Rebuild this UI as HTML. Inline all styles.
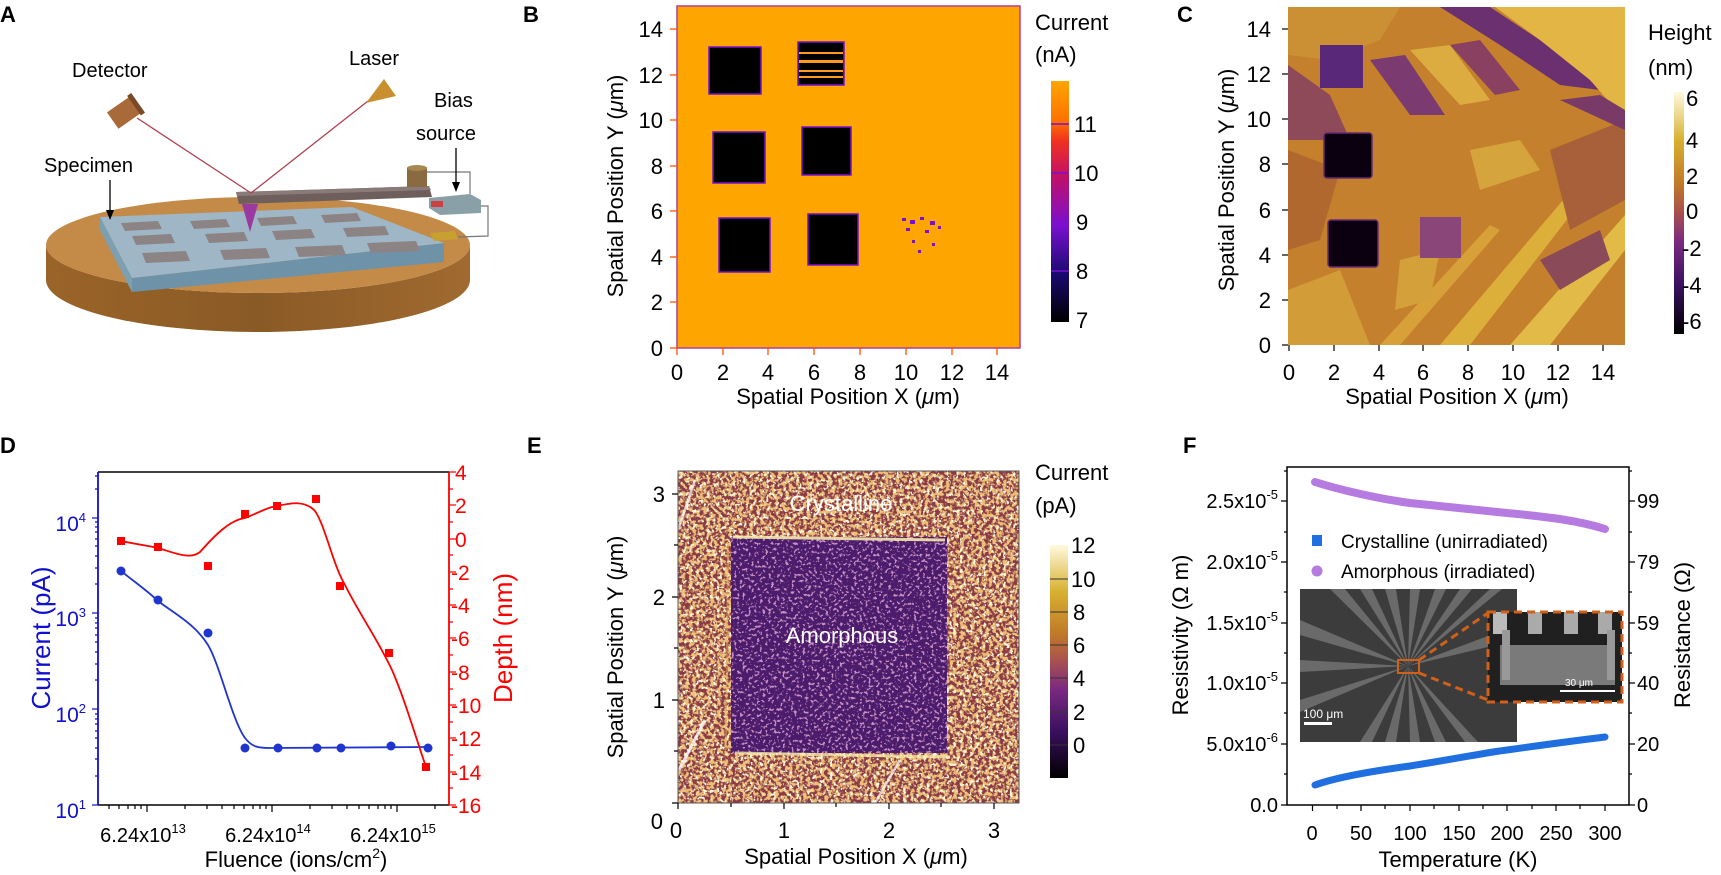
<!DOCTYPE html>
<html><head><meta charset="utf-8"><style>
html,body{margin:0;padding:0;background:#fff;}
svg{display:block;font-family:"Liberation Sans",sans-serif;}
</style></head><body>
<svg width="1721" height="875" viewBox="0 0 1721 875" xmlns="http://www.w3.org/2000/svg">
<defs>
<linearGradient id="cbB" x1="0" y1="1" x2="0" y2="0">
<stop offset="0" stop-color="#000"/><stop offset="0.2" stop-color="#1a0a70"/><stop offset="0.4" stop-color="#7a10d0"/><stop offset="0.6" stop-color="#c0106a"/><stop offset="0.75" stop-color="#f03020"/><stop offset="0.83" stop-color="#ff7000"/><stop offset="1" stop-color="#ffa500"/></linearGradient>
<linearGradient id="cbC" x1="0" y1="1" x2="0" y2="0">
<stop offset="0" stop-color="#000"/><stop offset="0.2" stop-color="#3a1060"/><stop offset="0.38" stop-color="#7a2a80"/><stop offset="0.5" stop-color="#a85050"/><stop offset="0.62" stop-color="#c07a28"/><stop offset="0.8" stop-color="#d8b030"/><stop offset="1" stop-color="#fffae0"/></linearGradient>
<linearGradient id="disk" x1="0" y1="0" x2="1" y2="0"><stop offset="0" stop-color="#9a6428"/><stop offset="0.5" stop-color="#8a5a26"/><stop offset="1" stop-color="#a06a30"/></linearGradient>
<filter id="spO" x="0" y="0" width="100%" height="100%"><feTurbulence type="fractalNoise" baseFrequency="0.28" numOctaves="2" seed="3"/><feColorMatrix type="matrix" values="0 0 0 0 0.85  0 0 0 0 0.52  0 0 0 0 0.18  7 0 0 0 -3.1"/></filter>
<filter id="spY" x="0" y="0" width="100%" height="100%"><feTurbulence type="fractalNoise" baseFrequency="0.3" numOctaves="2" seed="8"/><feColorMatrix type="matrix" values="0 0 0 0 1  0 0 0 0 0.95  0 0 0 0 0.7  0 9 0 0 -5.1"/></filter>
<filter id="spI" x="0" y="0" width="100%" height="100%"><feTurbulence type="fractalNoise" baseFrequency="0.35" numOctaves="2" seed="5"/><feColorMatrix type="matrix" values="0 0 0 0 0.6  0 0 0 0 0.28  0 0 0 0 0.55  8 0 0 0 -4.5"/></filter>
<clipPath id="clipC"><rect x="1288" y="7" width="337" height="338"/></clipPath>
<clipPath id="clipI1"><rect x="1300" y="589" width="217" height="153"/></clipPath>
<clipPath id="clipI2"><rect x="1488" y="612" width="134" height="90"/></clipPath>
</defs>

<!-- ============ A ============ -->
<text x="0" y="22" font-size="22" font-weight="bold">A</text>
<path d="M46,245 A212,48 0 0 0 470,245 L470,280 A212,52 0 0 1 46,280 Z" fill="url(#disk)"/>
<ellipse cx="258" cy="245" rx="212" ry="48" fill="#c48a48"/>
<polygon points="132,278 444,243 444,262 132,292" fill="#6e92a8"/>
<polygon points="100,217 352,207 444,243 132,278" fill="#9fb6c6"/>
<polygon points="100,217 132,278 132,292 100,230" fill="#7d9fb2"/>
<g fill="#8c8484">
<polygon points="121,223 158,221 162,229 125,231"/><polygon points="190,221 226,219 230,227 194,229"/><polygon points="257,218 293,216 297,224 261,226"/><polygon points="321,215 357,213 361,221 325,223"/>
<polygon points="132,236 171,234 175,243 136,245"/><polygon points="205,234 244,232 248,241 209,243"/><polygon points="272,231 311,229 315,238 276,240"/><polygon points="343,228 385,226 389,235 347,237"/>
<polygon points="142,253 186,251 190,261 146,263"/><polygon points="220,250 266,248 270,258 224,260"/><polygon points="295,247 342,245 346,255 299,257"/><polygon points="367,243 416,241 420,251 371,253"/>
</g>
<polygon points="236,192 429,186 432,197 239,204" fill="#6e5e5c"/>
<polygon points="236,192 429,186 431,190 237,196" fill="#8a7a78"/>
<rect x="407" y="168" width="20" height="19" fill="#8a6a40"/><ellipse cx="417" cy="168" rx="10" ry="3" fill="#a8884e"/>
<polygon points="242,204 258,204 250,232" fill="#9a3aa0"/>
<polyline points="137,118 251,193 368,101" fill="none" stroke="#b04050" stroke-width="1.3"/>
<polygon points="366,103 384,79 396,96" fill="#c8902e"/>
<g transform="rotate(-35 125 112)"><rect x="110" y="102" width="28" height="20" fill="#a86a38"/><rect x="136" y="100" width="5" height="24" fill="#7a4a28"/></g>
<polygon points="429,198 470,194 481,200 481,213 440,215 429,208" fill="#8aa0a8"/>
<rect x="431" y="201" width="12" height="6" fill="#d04040"/>
<polyline points="427,172 470,172 470,194" fill="none" stroke="#777" stroke-width="1.2"/>
<polyline points="481,206 488,206 488,236 458,237" fill="none" stroke="#777" stroke-width="1.2"/>
<polygon points="430,233 455,231 458,239 434,241" fill="#c8a030"/>
<text x="72" y="77" font-size="20">Detector</text>
<text x="349" y="65" font-size="20">Laser</text>
<text x="434" y="107" font-size="20">Bias</text>
<text x="416" y="140" font-size="20">source</text>
<text x="44" y="172" font-size="20">Specimen</text>
<line x1="110" y1="180" x2="110" y2="212" stroke="#000" stroke-width="1.3"/><polygon points="106,210 114,210 110,220" fill="#000"/>
<line x1="456" y1="148" x2="456" y2="184" stroke="#000" stroke-width="1.3"/><polygon points="452,182 460,182 456,192" fill="#000"/>

<!-- ============ B ============ -->
<text x="523" y="22" font-size="22" font-weight="bold">B</text>
<rect x="677" y="6" width="343" height="342" fill="#ffa500" stroke="#b040a0" stroke-width="1.5"/>
<g fill="#000" stroke="#7a10d0" stroke-width="1.5">
<rect x="709" y="47" width="52" height="47"/>
<rect x="713" y="132" width="52" height="51"/>
<rect x="802" y="127" width="49" height="48"/>
<rect x="719" y="218" width="51" height="54"/>
<rect x="808" y="214" width="50" height="51"/>
<rect x="798" y="42" width="46" height="43"/>
</g>
<g fill="#ff9a20"><rect x="799" y="52" width="44" height="2"/><rect x="799" y="60" width="44" height="3"/><rect x="799" y="70" width="44" height="2"/><rect x="799" y="76" width="44" height="2"/></g>
<g fill="#7a10d0"><rect x="902" y="218" width="4" height="3"/><rect x="910" y="220" width="5" height="4"/><rect x="920" y="217" width="4" height="3"/><rect x="930" y="221" width="5" height="4"/><rect x="906" y="228" width="4" height="3"/><rect x="925" y="230" width="4" height="3"/><rect x="912" y="240" width="3" height="3"/><rect x="932" y="243" width="3" height="3"/><rect x="918" y="250" width="3" height="3"/><rect x="938" y="226" width="3" height="3"/></g>
<g stroke="#ff5000" stroke-width="1.3">
<line x1="677" y1="348" x2="677" y2="355"/><line x1="723" y1="348" x2="723" y2="355"/><line x1="768" y1="348" x2="768" y2="355"/><line x1="814" y1="348" x2="814" y2="355"/><line x1="860" y1="348" x2="860" y2="355"/><line x1="906" y1="348" x2="906" y2="355"/><line x1="952" y1="348" x2="952" y2="355"/><line x1="997" y1="348" x2="997" y2="355"/>
<line x1="670" y1="348" x2="677" y2="348"/><line x1="670" y1="302" x2="677" y2="302"/><line x1="670" y1="257" x2="677" y2="257"/><line x1="670" y1="211" x2="677" y2="211"/><line x1="670" y1="166" x2="677" y2="166"/><line x1="670" y1="120" x2="677" y2="120"/><line x1="670" y1="75" x2="677" y2="75"/><line x1="670" y1="29" x2="677" y2="29"/>
</g>
<g font-size="22" text-anchor="end">
<text x="663" y="356">0</text><text x="663" y="310">2</text><text x="663" y="265">4</text><text x="663" y="219">6</text><text x="663" y="174">8</text><text x="663" y="128">10</text><text x="663" y="83">12</text><text x="663" y="37">14</text>
</g>
<g font-size="22" text-anchor="middle">
<text x="677" y="380">0</text><text x="723" y="380">2</text><text x="768" y="380">4</text><text x="814" y="380">6</text><text x="860" y="380">8</text><text x="906" y="380">10</text><text x="952" y="380">12</text><text x="997" y="380">14</text>
<text x="848" y="404">Spatial Position X (<tspan font-style="italic">μ</tspan>m)</text>
</g>
<text transform="translate(623,186) rotate(-90)" font-size="22" text-anchor="middle">Spatial Position Y (<tspan font-style="italic">μ</tspan>m)</text>
<text x="1035" y="30" font-size="22">Current</text><text x="1035" y="62" font-size="22">(nA)</text>
<rect x="1051" y="81" width="18" height="241" fill="url(#cbB)"/>
<g stroke="#7a10d0" stroke-width="1.5"><line x1="1051" y1="124" x2="1069" y2="124"/><line x1="1051" y1="173" x2="1069" y2="173"/><line x1="1051" y1="222" x2="1069" y2="222"/><line x1="1051" y1="271" x2="1069" y2="271"/></g>
<g font-size="22"><text x="1074" y="132">11</text><text x="1074" y="181">10</text><text x="1076" y="230">9</text><text x="1076" y="279">8</text><text x="1076" y="328">7</text></g>

<!-- ============ C ============ -->
<text x="1177" y="22" font-size="22" font-weight="bold">C</text>
<g clip-path="url(#clipC)">
<rect x="1288" y="7" width="337" height="338" fill="#c4802c"/>
<polygon points="1288,7 1400,7 1380,40 1330,60 1288,55" fill="#cc9034"/>
<polygon points="1440,7 1490,7 1570,60 1600,90 1560,85 1500,45" fill="#6a3070"/>
<polygon points="1495,7 1625,7 1625,120 1590,80 1540,40" fill="#e3b545"/>
<polygon points="1370,60 1405,55 1445,115 1410,115" fill="#7b3a70"/>
<polygon points="1410,50 1450,45 1490,100 1460,105" fill="#dcac40"/>
<polygon points="1450,45 1480,40 1520,90 1495,95" fill="#8a4060"/>
<polygon points="1288,65 1330,95 1350,140 1288,140" fill="#8e4a58"/>
<polygon points="1288,150 1340,170 1320,240 1288,250" fill="#b0682e"/>
<polygon points="1440,345 1470,345 1590,190 1580,180" fill="#dcae3a"/>
<polygon points="1510,345 1550,345 1625,250 1625,215" fill="#e2ba48"/>
<polygon points="1380,345 1400,345 1500,230 1490,225" fill="#d8a038"/>
<polygon points="1288,290 1340,270 1370,345 1288,345" fill="#d29c38"/>
<polygon points="1550,150 1625,120 1625,200 1570,230" fill="#a8603a"/>
<polygon points="1540,260 1600,230 1610,260 1560,290" fill="#8a4a58"/>
<polygon points="1470,150 1520,140 1540,170 1480,190" fill="#d6a43c"/>
<polygon points="1400,260 1440,250 1430,300 1395,310" fill="#d4a03a"/>
<polygon points="1560,100 1600,95 1625,110 1625,130" fill="#7a3a68"/>
<rect x="1320" y="45" width="43" height="43" fill="#5a2878"/>
<rect x="1324" y="133" width="48" height="45" rx="3" fill="#0a0010" stroke="#6a2a70" stroke-width="1.5"/>
<rect x="1328" y="220" width="50" height="47" rx="3" fill="#0a0010" stroke="#6a2a70" stroke-width="1.5"/>
<rect x="1420" y="217" width="41" height="41" fill="#8a4678"/>
</g>
<g stroke="#000" stroke-width="1.2">
<line x1="1289" y1="345" x2="1289" y2="351"/><line x1="1334" y1="345" x2="1334" y2="351"/><line x1="1379" y1="345" x2="1379" y2="351"/><line x1="1423" y1="345" x2="1423" y2="351"/><line x1="1468" y1="345" x2="1468" y2="351"/><line x1="1513" y1="345" x2="1513" y2="351"/><line x1="1558" y1="345" x2="1558" y2="351"/><line x1="1603" y1="345" x2="1603" y2="351"/>
<line x1="1282" y1="345" x2="1288" y2="345"/><line x1="1282" y1="300" x2="1288" y2="300"/><line x1="1282" y1="255" x2="1288" y2="255"/><line x1="1282" y1="210" x2="1288" y2="210"/><line x1="1282" y1="164" x2="1288" y2="164"/><line x1="1282" y1="119" x2="1288" y2="119"/><line x1="1282" y1="74" x2="1288" y2="74"/><line x1="1282" y1="29" x2="1288" y2="29"/>
</g>
<g font-size="22" text-anchor="end">
<text x="1271" y="353">0</text><text x="1271" y="308">2</text><text x="1271" y="263">4</text><text x="1271" y="218">6</text><text x="1271" y="172">8</text><text x="1271" y="127">10</text><text x="1271" y="82">12</text><text x="1271" y="37">14</text>
</g>
<g font-size="22" text-anchor="middle">
<text x="1289" y="380">0</text><text x="1334" y="380">2</text><text x="1379" y="380">4</text><text x="1423" y="380">6</text><text x="1468" y="380">8</text><text x="1513" y="380">10</text><text x="1558" y="380">12</text><text x="1603" y="380">14</text>
<text x="1457" y="404">Spatial Position X (<tspan font-style="italic">μ</tspan>m)</text>
</g>
<text transform="translate(1234,180) rotate(-90)" font-size="22" text-anchor="middle">Spatial Position Y (<tspan font-style="italic">μ</tspan>m)</text>
<text x="1648" y="40" font-size="22">Height</text><text x="1648" y="75" font-size="22">(nm)</text>
<rect x="1674" y="92" width="10" height="242" fill="url(#cbC)"/>
<g font-size="22"><text x="1686" y="106">6</text><text x="1686" y="148">4</text><text x="1686" y="184">2</text><text x="1686" y="219">0</text><text x="1682" y="256">-2</text><text x="1682" y="293">-4</text><text x="1682" y="329">-6</text></g>

<!-- ============ D ============ -->
<text x="0" y="453" font-size="22" font-weight="bold">D</text>
<line x1="98" y1="472" x2="449" y2="472" stroke="#000" stroke-width="1.5"/>
<line x1="98" y1="805" x2="449" y2="805" stroke="#000" stroke-width="1.5"/>
<line x1="98" y1="472" x2="98" y2="805" stroke="#1010d0" stroke-width="1.8"/>
<line x1="449" y1="472" x2="449" y2="805" stroke="#ff0000" stroke-width="1.8"/>
<g stroke="#1010d0" stroke-width="1.2">
<line x1="92" y1="805" x2="98" y2="805"/><line x1="92" y1="709" x2="98" y2="709"/><line x1="92" y1="613" x2="98" y2="613"/><line x1="92" y1="518" x2="98" y2="518"/>
<path d="M95,776H98M95,759H98M95,748H98M95,738H98M95,731H98M95,724H98M95,719H98M95,714H98M95,680H98M95,664H98M95,652H98M95,642H98M95,635H98M95,628H98M95,623H98M95,618H98M95,584H98M95,568H98M95,556H98M95,546H98M95,539H98M95,532H98M95,527H98M95,522H98M95,489H98M95,476H98"/>
</g>
<g stroke="#ff0000" stroke-width="1.2">
<path d="M449,472h7M449,505h7M449,539h7M449,572h7M449,605h7M449,638h7M449,672h7M449,705h7M449,738h7M449,772h7M449,805h7"/>
<path d="M449,489h4M449,522h4M449,555h4M449,589h4M449,622h4M449,655h4M449,689h4M449,722h4M449,755h4M449,788h4"/>
</g>
<g stroke="#000" stroke-width="1.2">
<path d="M147,805v7M272,805v7M397,805v7"/>
<path d="M109,805v4M119,805v4M128,805v4M135,805v4M141,805v4M185,805v4M207,805v4M222,805v4M234,805v4M244,805v4M253,805v4M260,805v4M266,805v4M310,805v4M332,805v4M347,805v4M359,805v4M369,805v4M378,805v4M385,805v4M391,805v4M435,805v4"/>
</g>
<g font-size="21" fill="#1010d0" text-anchor="end">
<text x="86" y="531">10<tspan dy="-9" font-size="13">4</tspan></text>
<text x="86" y="626">10<tspan dy="-9" font-size="13">3</tspan></text>
<text x="86" y="722">10<tspan dy="-9" font-size="13">2</tspan></text>
<text x="86" y="818">10<tspan dy="-9" font-size="13">1</tspan></text>
</g>
<g font-size="21" fill="#ff0000">
<text x="455" y="480">4</text><text x="455" y="513">2</text><text x="455" y="547">0</text><text x="451" y="580">-2</text><text x="451" y="613">-4</text><text x="451" y="646">-6</text><text x="451" y="680">-8</text><text x="451" y="713">-10</text><text x="451" y="746">-12</text><text x="451" y="780">-14</text><text x="451" y="813">-16</text>
</g>
<g font-size="20" text-anchor="middle">
<text x="143" y="842">6.24x10<tspan dy="-9" font-size="13">13</tspan></text>
<text x="268" y="842">6.24x10<tspan dy="-9" font-size="13">14</tspan></text>
<text x="393" y="842">6.24x10<tspan dy="-9" font-size="13">15</tspan></text>
<text x="296" y="867" font-size="22">Fluence (ions/cm<tspan dy="-9" font-size="14">2</tspan><tspan dy="9">)</tspan></text>
</g>
<text transform="translate(50,638) rotate(-90)" font-size="26" fill="#1010d0" text-anchor="middle">Current (pA)</text>
<text transform="translate(512,638) rotate(-90)" font-size="26" fill="#ff0000" text-anchor="middle">Depth (nm)</text>
<path d="M121,571 C140,586 150,593 158,601 C175,614 195,624 208,645 C220,665 232,720 245,738 C252,747 258,748 270,748 L428,747" fill="none" stroke="#2035d0" stroke-width="1.8"/>
<path d="M121,541 C140,545 150,546 158,548 C175,553 190,560 200,552 C215,535 230,520 245,518 C258,513 268,507 277,506 C290,503 305,500 315,511 C325,525 333,565 345,585 C360,615 378,640 392,670 C405,700 415,735 426,767" fill="none" stroke="#ff0000" stroke-width="1.8"/>
<g fill="#2035d0"><circle cx="121" cy="571" r="4.5"/><circle cx="158" cy="600" r="4.5"/><circle cx="208" cy="633" r="4.5"/><circle cx="245" cy="748" r="4.5"/><circle cx="278" cy="748" r="4.5"/><circle cx="317" cy="748" r="4.5"/><circle cx="341" cy="748" r="4.5"/><circle cx="391" cy="746" r="4.5"/><circle cx="428" cy="748" r="4.5"/></g>
<g fill="#ff0000"><rect x="117" y="537" width="8" height="8"/><rect x="154" y="543" width="8" height="8"/><rect x="204" y="562" width="8" height="8"/><rect x="241" y="510" width="8" height="8"/><rect x="273" y="502" width="8" height="8"/><rect x="312" y="495" width="8" height="8"/><rect x="336" y="582" width="8" height="8"/><rect x="385" y="649" width="8" height="8"/><rect x="422" y="763" width="8" height="8"/></g>

<!-- ============ E ============ -->
<text x="527" y="453" font-size="22" font-weight="bold">E</text>
<rect x="678" y="471" width="341" height="332" fill="#8a3a45"/>
<rect x="678" y="471" width="341" height="332" filter="url(#spO)"/>
<rect x="678" y="471" width="341" height="332" filter="url(#spY)"/>
<rect x="731" y="537" width="216" height="216" fill="#4b1c6c"/>
<rect x="731" y="537" width="216" height="216" filter="url(#spI)"/>
<line x1="733" y1="537" x2="945" y2="540" stroke="#fff3b0" stroke-width="3" opacity="0.85"/>
<line x1="735" y1="753" x2="950" y2="757" stroke="#fff3b0" stroke-width="3" opacity="0.75"/>
<line x1="728" y1="545" x2="726" y2="750" stroke="#e8b060" stroke-width="2" opacity="0.5"/>
<line x1="679" y1="770" x2="705" y2="720" stroke="#fff" stroke-width="3" opacity="0.8"/>
<line x1="678" y1="530" x2="695" y2="480" stroke="#fff" stroke-width="2.5" opacity="0.7"/>
<line x1="875" y1="803" x2="900" y2="760" stroke="#fff" stroke-width="2.5" opacity="0.7"/>
<rect x="678" y="471" width="341" height="332" fill="none" stroke="#555" stroke-width="1"/>
<text x="841" y="511" font-size="22" fill="#fff" text-anchor="middle">Crystalline</text>
<text x="842" y="643" font-size="22" fill="#fff" text-anchor="middle">Amorphous</text>
<g stroke="#000" stroke-width="1.2">
<path d="M678,803v6M731,803v4M784,803v6M836,803v4M889,803v6M941,803v4M994,803v6"/>
<path d="M672,803h6M674,751h4M672,700h6M674,648h4M672,597h6M674,545h4M672,494h6"/>
</g>
<g font-size="22" text-anchor="end"><text x="665" y="708">1</text><text x="665" y="605">2</text><text x="665" y="502">3</text><text x="663" y="829">0</text></g>
<g font-size="22" text-anchor="middle"><text x="676" y="838">0</text><text x="784" y="838">1</text><text x="889" y="838">2</text><text x="994" y="838">3</text>
<text x="856" y="864">Spatial Position X (<tspan font-style="italic">μ</tspan>m)</text></g>
<text transform="translate(623,647) rotate(-90)" font-size="22" text-anchor="middle">Spatial Position Y (<tspan font-style="italic">μ</tspan>m)</text>
<text x="1035" y="480" font-size="22">Current</text><text x="1035" y="513" font-size="22">(pA)</text>
<rect x="1050" y="545" width="18" height="233" fill="url(#cbC)"/>
<g stroke="#333" stroke-width="1"><path d="M1050,579h18M1050,612h18M1050,645h18M1050,678h18M1050,712h18M1050,745h18"/></g>
<g font-size="22"><text x="1071" y="553">12</text><text x="1071" y="587">10</text><text x="1073" y="620">8</text><text x="1073" y="653">6</text><text x="1073" y="686">4</text><text x="1073" y="720">2</text><text x="1073" y="753">0</text></g>

<!-- ============ F ============ -->
<text x="1183" y="453" font-size="22" font-weight="bold">F</text>
<rect x="1287" y="467" width="342" height="338" fill="none" stroke="#000" stroke-width="1.5"/>
<g stroke="#000" stroke-width="1.2">
<path d="M1312.5,805v6M1361,805v6M1410,805v6M1459,805v6M1507,805v6M1556,805v6M1605,805v6"/>
<path d="M1337,805v4M1385,805v4M1434,805v4M1483,805v4M1532,805v4M1580,805v4"/>
<path d="M1281,805h6M1281,744h6M1281,683h6M1281,623h6M1281,562h6M1281,501h6M1284,774h3M1284,713h3M1284,653h3M1284,592h3M1284,532h3M1284,471h3"/>
<path d="M1629,805h6M1629,744h6M1629,683h6M1629,623h6M1629,562h6M1629,501h6M1629,774h3M1629,713h3M1629,653h3M1629,592h3M1629,532h3M1629,471h3"/>
</g>
<g font-size="20" text-anchor="end">
<text x="1278" y="812">0.0</text>
<text x="1278" y="751">5.0x10<tspan dy="-9" font-size="13">-6</tspan></text>
<text x="1278" y="690">1.0x10<tspan dy="-9" font-size="13">-5</tspan></text>
<text x="1278" y="630">1.5x10<tspan dy="-9" font-size="13">-5</tspan></text>
<text x="1278" y="569">2.0x10<tspan dy="-9" font-size="13">-5</tspan></text>
<text x="1278" y="508">2.5x10<tspan dy="-9" font-size="13">-5</tspan></text>
</g>
<g font-size="20"><text x="1637" y="812">0</text><text x="1637" y="751">20</text><text x="1637" y="690">40</text><text x="1637" y="630">59</text><text x="1637" y="569">79</text><text x="1637" y="508">99</text></g>
<g font-size="20" text-anchor="middle"><text x="1312" y="840">0</text><text x="1361" y="840">50</text><text x="1410" y="840">100</text><text x="1459" y="840">150</text><text x="1507" y="840">200</text><text x="1556" y="840">250</text><text x="1605" y="840">300</text>
<text x="1458" y="867" font-size="22">Temperature (K)</text></g>
<text transform="translate(1188,635) rotate(-90)" font-size="22" text-anchor="middle">Resistivity (Ω m)</text>
<text transform="translate(1690,635) rotate(-90)" font-size="22" text-anchor="middle">Resistance (Ω)</text>
<path d="M1315,482 C1340,490 1380,499 1410,503 C1460,508 1490,511 1507,513 C1550,517 1580,521 1605,529" fill="none" stroke="#b57be0" stroke-width="8" stroke-linecap="round"/>
<path d="M1315,785 C1340,776 1380,770 1410,766 C1460,758 1490,752 1507,750 C1550,744 1580,740 1605,737" fill="none" stroke="#1f6fe0" stroke-width="7" stroke-linecap="round"/>
<rect x="1312" y="535" width="10" height="11" fill="#1f6fe0"/>
<circle cx="1317" cy="571" r="5.5" fill="#b57be0"/>
<text x="1341" y="548" font-size="19">Crystalline (unirradiated)</text>
<text x="1341" y="578" font-size="19">Amorphous (irradiated)</text>
<g clip-path="url(#clipI1)">
<rect x="1300" y="589" width="217" height="153" fill="#3c3c3c"/>
<g fill="#6a6a6a">
<polygon points="1408,666 1330,589 1345,589"/><polygon points="1408,666 1360,589 1372,589"/><polygon points="1408,666 1385,589 1396,589"/><polygon points="1408,666 1410,589 1420,589"/><polygon points="1408,666 1435,589 1446,589"/><polygon points="1408,666 1460,589 1472,589"/><polygon points="1408,666 1490,589 1502,589"/>
<polygon points="1408,666 1300,620 1300,635"/><polygon points="1408,666 1300,660 1300,672"/><polygon points="1408,666 1300,700 1300,712"/><polygon points="1408,666 1517,625 1517,640"/>
<polygon points="1408,666 1360,742 1372,742"/><polygon points="1408,666 1385,742 1396,742"/><polygon points="1408,666 1410,742 1420,742"/><polygon points="1408,666 1435,742 1446,742"/><polygon points="1408,666 1465,742 1478,742"/>
</g>
<rect x="1304" y="722" width="28" height="3" fill="#fff"/>
<text x="1303" y="718" font-size="12" fill="#fff">100 μm</text>
</g>
<rect x="1398" y="660" width="21" height="13" fill="none" stroke="#d0601a" stroke-width="2"/>
<line x1="1419" y1="660" x2="1488" y2="613" stroke="#d0601a" stroke-width="3" stroke-dasharray="8,5"/>
<line x1="1419" y1="673" x2="1488" y2="700" stroke="#d0601a" stroke-width="3" stroke-dasharray="8,5"/>
<g clip-path="url(#clipI2)">
<rect x="1488" y="612" width="134" height="90" fill="#202020"/>
<rect x="1500" y="645" width="115" height="40" fill="#7a7a7a"/>
<rect x="1493" y="612" width="14" height="22" fill="#bbb"/><rect x="1528" y="612" width="14" height="22" fill="#aaa"/><rect x="1564" y="612" width="14" height="22" fill="#aaa"/><rect x="1598" y="612" width="14" height="22" fill="#aaa"/>
<rect x="1502" y="630" width="8" height="50" fill="#999"/><rect x="1607" y="630" width="8" height="50" fill="#999"/>
<rect x="1560" y="690" width="55" height="2" fill="#fff"/>
<text x="1565" y="686" font-size="10" fill="#fff">30 μm</text>
</g>
<rect x="1488" y="612" width="134" height="90" fill="none" stroke="#d0601a" stroke-width="3" stroke-dasharray="8,5"/>
</svg>
</body></html>
